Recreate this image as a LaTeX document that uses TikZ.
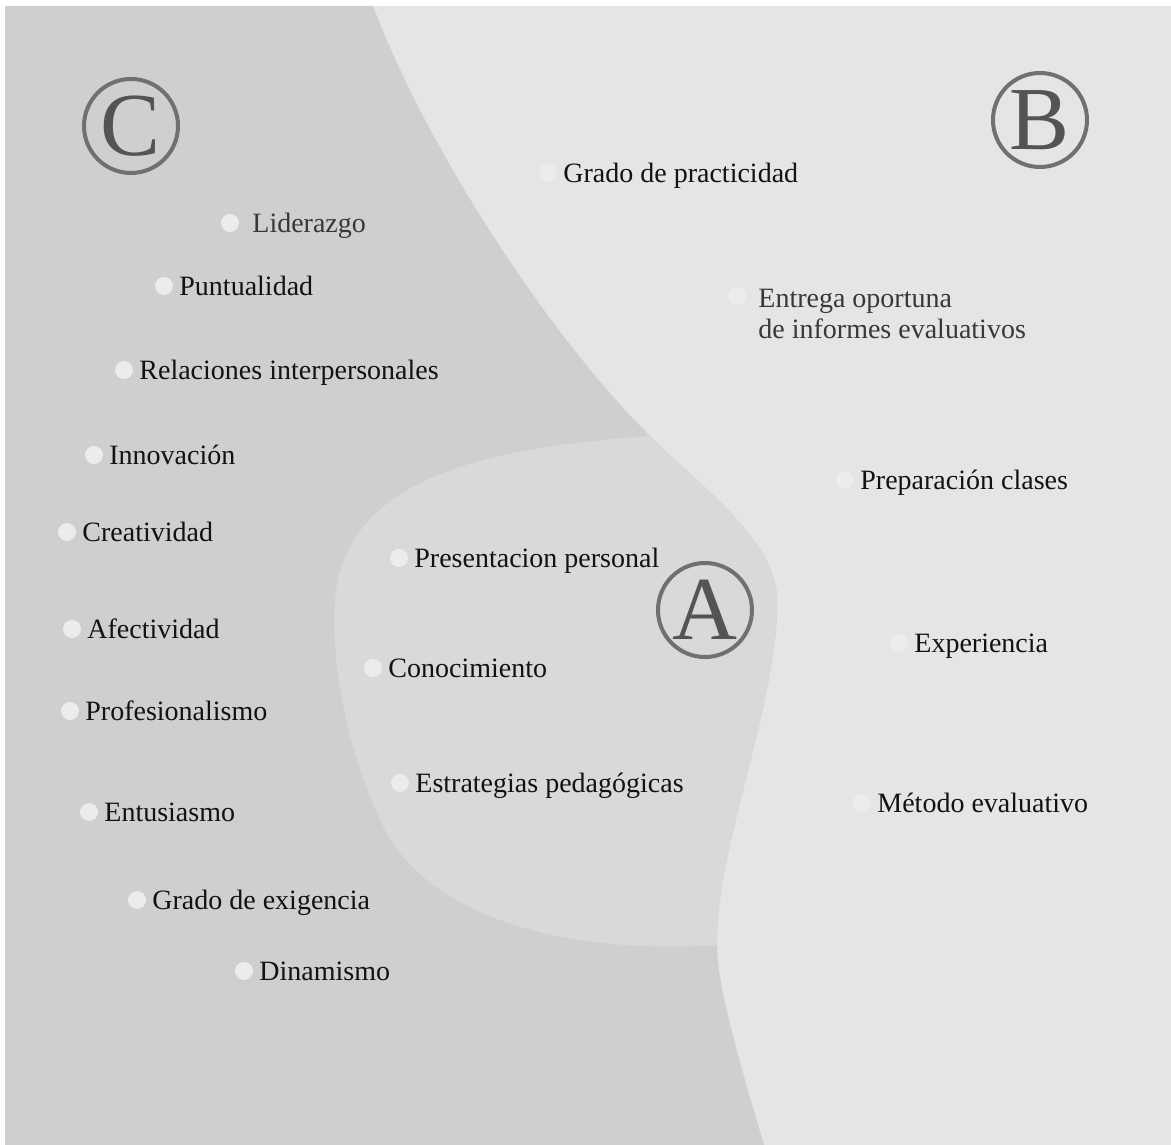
\documentclass[tikz,border=0pt]{standalone}
\usepackage{fontspec}
\setmainfont{Liberation Serif}
\usetikzlibrary{positioning}

\definecolor{fondoC}{gray}{0.81}
\definecolor{fondoB}{gray}{0.898}
\definecolor{fondoA}{gray}{0.851}
\definecolor{blanco}{gray}{0.925}
\definecolor{gris}{gray}{0.44}
\definecolor{letra}{gray}{0.33}
\definecolor{negro}{gray}{0.07}
\definecolor{suave}{gray}{0.22}

\begin{document}
\begin{tikzpicture}[x=1pt,y=-1pt,
  punto/.style={circle,fill=blanco,minimum size=18pt,inner sep=0pt},
  etiqueta/.style={anchor=base west,inner sep=0pt,text=negro,font=\fontsize{28}{31}\selectfont},
  aro/.style={circle,draw=gris,line width=4pt,minimum size=94pt,inner sep=0pt,text=letra,font=\fontsize{90}{90}\selectfont}]
\def\bordeB{.. controls (695,482) and (778,540) .. (777,600) .. controls (779,700) and (715,850) .. (717,945)}
\def\bordeBvuelta{.. controls (715,850) and (779,700) .. (777,600) .. controls (778,540) and (695,482) .. (650,436)}

\useasboundingbox (0,0) rectangle (1171,1145);
\fill[white] (0,0) rectangle (1171,1145);
\fill[fondoB] (5,6) rectangle (1171,1145);

% zona C
\fill[fondoC] (5,6) -- (373,6) .. controls (428,151) and (550,337) .. (650,436) \bordeB
  .. controls (717,990) and (745,1080) .. (764,1145) -- (5,1145) -- cycle;

% zona A
\fill[fondoA] (650,436) .. controls (480,448) and (345,480) .. (335,600)
  .. controls (330,680) and (355,770) .. (385,830)
  .. controls (430,915) and (560,955) .. (717,945) \bordeBvuelta -- cycle;

\node[aro] (C) at (131,126) {C};
\node[aro] (B) at (1040,120) {B};
\node[aro] (A) at (705,610) {A};

\foreach \px/\py/\txt [count=\i] in {548/173/Grado de practicidad,
  164/286/Puntualidad, 124/370/Relaciones interpersonales,
  94/455/Innovación, 67/532/Creatividad, 72/629/Afectividad,
  70/711/Profesionalismo, 89/812/Entusiasmo, 137/900/Grado de exigencia,
  244/971/Dinamismo, 399/558/Presentacion personal, 373/668/Conocimiento,
  400/783/Estrategias pedagógicas, 845/480/Preparación clases,
  899/643/Experiencia, 862/803/Método evaluativo}
{
  \node[punto] (p\i) at (\px,\py) {};
  \node[etiqueta] (t\i) at ([xshift=6pt,yshift=-9.5pt]p\i.east) {\txt};
}

\node[punto] (p17) at (230,223) {};
\node[etiqueta,text=suave] (t17) at ([xshift=13pt,yshift=-9.5pt]p17.east) {Liderazgo};

\node[punto] (p18) at (737,296) {};
\node[etiqueta,text=suave,anchor=north west,align=left] (t18) at ([xshift=12pt,yshift=7pt]p18.east)
  {Entrega oportuna\\de informes evaluativos};

\end{tikzpicture}
\end{document}
